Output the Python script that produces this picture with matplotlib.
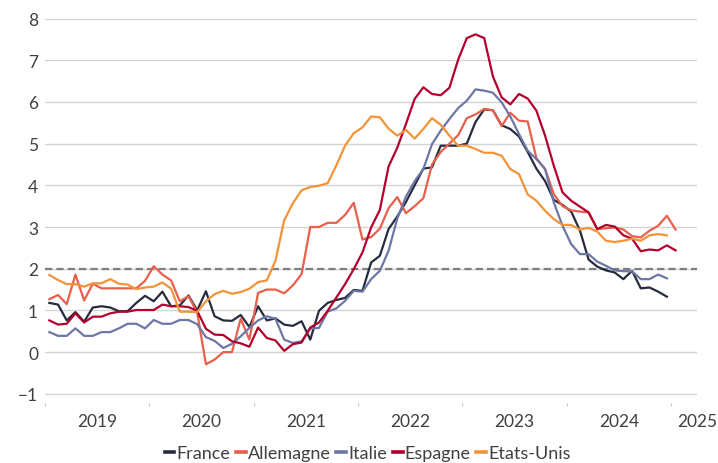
import numpy as np
import matplotlib.pyplot as plt

plt.rcParams['font.family'] = ['Lato', 'DejaVu Sans']

# Inflation sous-jacente mensuelle (%), janvier 2019 -> janvier 2025
france = [1.18, 1.14, 0.76, 0.96, 0.73, 1.07, 1.10, 1.07, 0.98, 0.98, 1.18, 1.35,
          1.22, 1.45, 1.10, 1.12, 1.36, 1.00, 1.46, 0.86, 0.76, 0.75, 0.89, 0.60,
          1.10, 0.76, 0.81, 0.66, 0.63, 0.74, 0.30, 0.99, 1.18, 1.25, 1.30, 1.49,
          1.47, 2.15, 2.31, 2.95, 3.25, 3.60, 4.00, 4.40, 4.43, 4.95, 4.95, 4.95,
          5.00, 5.52, 5.82, 5.80, 5.44, 5.35, 5.17, 4.80, 4.40, 4.10, 3.65, 3.53,
          3.37, 2.92, 2.22, 2.05, 1.96, 1.91, 1.75, 1.95, 1.53, 1.55, 1.45, 1.33]
allemagne = [1.27, 1.37, 1.15, 1.86, 1.24, 1.64, 1.53, 1.53, 1.53, 1.53, 1.53, 1.71,
             2.06, 1.86, 1.72, 1.22, 1.34, 0.95, -0.29, -0.18, 0.00, 0.00, 0.80, 0.30,
             1.42, 1.50, 1.50, 1.41, 1.60, 1.87, 3.00, 3.00, 3.10, 3.10, 3.29, 3.58,
             2.70, 2.76, 2.96, 3.45, 3.72, 3.33, 3.50, 3.69, 4.50, 4.80, 5.00, 5.20,
             5.61, 5.70, 5.83, 5.80, 5.42, 5.74, 5.55, 5.53, 4.65, 4.39, 3.79, 3.50,
             3.40, 3.37, 3.35, 2.95, 2.97, 2.99, 2.94, 2.78, 2.75, 2.91, 3.03, 3.27,
             2.94]
italie = [0.48, 0.39, 0.39, 0.57, 0.39, 0.39, 0.48, 0.48, 0.57, 0.68, 0.68, 0.57,
          0.77, 0.68, 0.68, 0.77, 0.77, 0.67, 0.36, 0.27, 0.10, 0.20, 0.38, 0.58,
          0.76, 0.86, 0.80, 0.30, 0.22, 0.26, 0.56, 0.58, 0.97, 1.05, 1.23, 1.47,
          1.45, 1.75, 1.95, 2.43, 3.20, 3.73, 4.10, 4.39, 4.99, 5.31, 5.59, 5.85,
          6.03, 6.30, 6.27, 6.22, 5.99, 5.65, 5.23, 4.83, 4.63, 4.39, 3.59, 3.03,
          2.59, 2.35, 2.35, 2.17, 2.07, 1.96, 1.94, 1.94, 1.75, 1.75, 1.86, 1.77]
espagne = [0.76, 0.66, 0.68, 0.93, 0.71, 0.85, 0.85, 0.93, 0.97, 0.97, 1.01, 1.01,
           1.01, 1.14, 1.10, 1.10, 1.08, 0.99, 0.56, 0.42, 0.41, 0.26, 0.21, 0.13,
           0.59, 0.34, 0.28, 0.03, 0.19, 0.23, 0.59, 0.71, 0.99, 1.31, 1.63, 1.99,
           2.39, 2.99, 3.41, 4.45, 4.90, 5.47, 6.07, 6.35, 6.19, 6.16, 6.34, 7.01,
           7.53, 7.62, 7.53, 6.61, 6.11, 5.94, 6.19, 6.08, 5.79, 5.19, 4.47, 3.83,
           3.63, 3.49, 3.35, 2.95, 3.05, 3.01, 2.80, 2.72, 2.42, 2.46, 2.44, 2.56,
           2.44]
etats_unis = [1.85, 1.73, 1.63, 1.63, 1.57, 1.65, 1.65, 1.75, 1.64, 1.62, 1.51, 1.55,
              1.57, 1.67, 1.52, 0.97, 0.97, 0.96, 1.22, 1.39, 1.47, 1.40, 1.44, 1.52,
              1.68, 1.72, 2.19, 3.16, 3.57, 3.88, 3.96, 3.99, 4.05, 4.48, 4.95, 5.25,
              5.39, 5.65, 5.63, 5.36, 5.19, 5.33, 5.12, 5.35, 5.61, 5.45, 5.19, 4.95,
              4.95, 4.87, 4.78, 4.78, 4.71, 4.39, 4.27, 3.78, 3.63, 3.39, 3.19, 3.05,
              3.05, 2.94, 2.98, 2.89, 2.67, 2.64, 2.67, 2.72, 2.67, 2.80, 2.83, 2.80]

annees = ['2019', '2020', '2021', '2022', '2023', '2024', '2025']
cible = 2.0
n_mois = 75  # janvier 2019 -> mars 2025

series = [
    ('France', france, '#262b3e'),
    ('Allemagne', allemagne, '#e8604c'),
    ('Italie', italie, '#6c77a6'),
    ('Espagne', espagne, '#b3002d'),
    ('Etats-Unis', etats_unis, '#f39339'),
]

fig = plt.figure(figsize=(7.18, 4.64), dpi=100)
ax = fig.add_axes([45 / 718, 1 - 404 / 464, 652.3 / 718, 384.5 / 464])

for nom, vals, couleur in series:
    ax.plot(np.arange(len(vals)), vals, color=couleur, lw=1.6, label=nom, zorder=3)

ax.axhline(cible, color='#7f7f7f', lw=1.6, linestyle=(0, (3.3, 1.8)), zorder=2)

ax.set_xlim(-0.5, n_mois - 0.5)
ax.set_ylim(-1.22, 8)
ax.set_yticks(range(-1, 9))
ax.grid(axis='y', color='#d4d4d4', lw=1.0, zorder=0)
for s in ax.spines.values():
    s.set_visible(False)

# ticks entre les annees, libelles au centre
ax.set_xticks(np.arange(-0.5, n_mois - 1, 12))
ax.set_xticklabels([])
centres = [5.5 + 12 * i for i in range(len(annees) - 1)] + [n_mois - 0.5]
ax.set_xticks(centres, minor=True)
ax.set_xticklabels(annees, minor=True)
ax.tick_params(axis='x', which='major', length=2.5, width=0.8, color='#bfbfbf', direction='out')
ax.tick_params(axis='x', which='minor', length=0, pad=7, labelsize=12.5, labelcolor='#404040')
ax.tick_params(axis='y', length=0, pad=5, labelsize=12.5, labelcolor='#404040')

leg = fig.legend(loc='center', bbox_to_anchor=(0.512, 0.021), ncol=5, frameon=False,
                 fontsize=13, handlelength=0.55, handletextpad=0.12, columnspacing=0.3,
                 labelcolor='#404040')
for h in leg.legend_handles:
    h.set_linewidth(2.6)

fig.savefig('out.png', dpi=100)
